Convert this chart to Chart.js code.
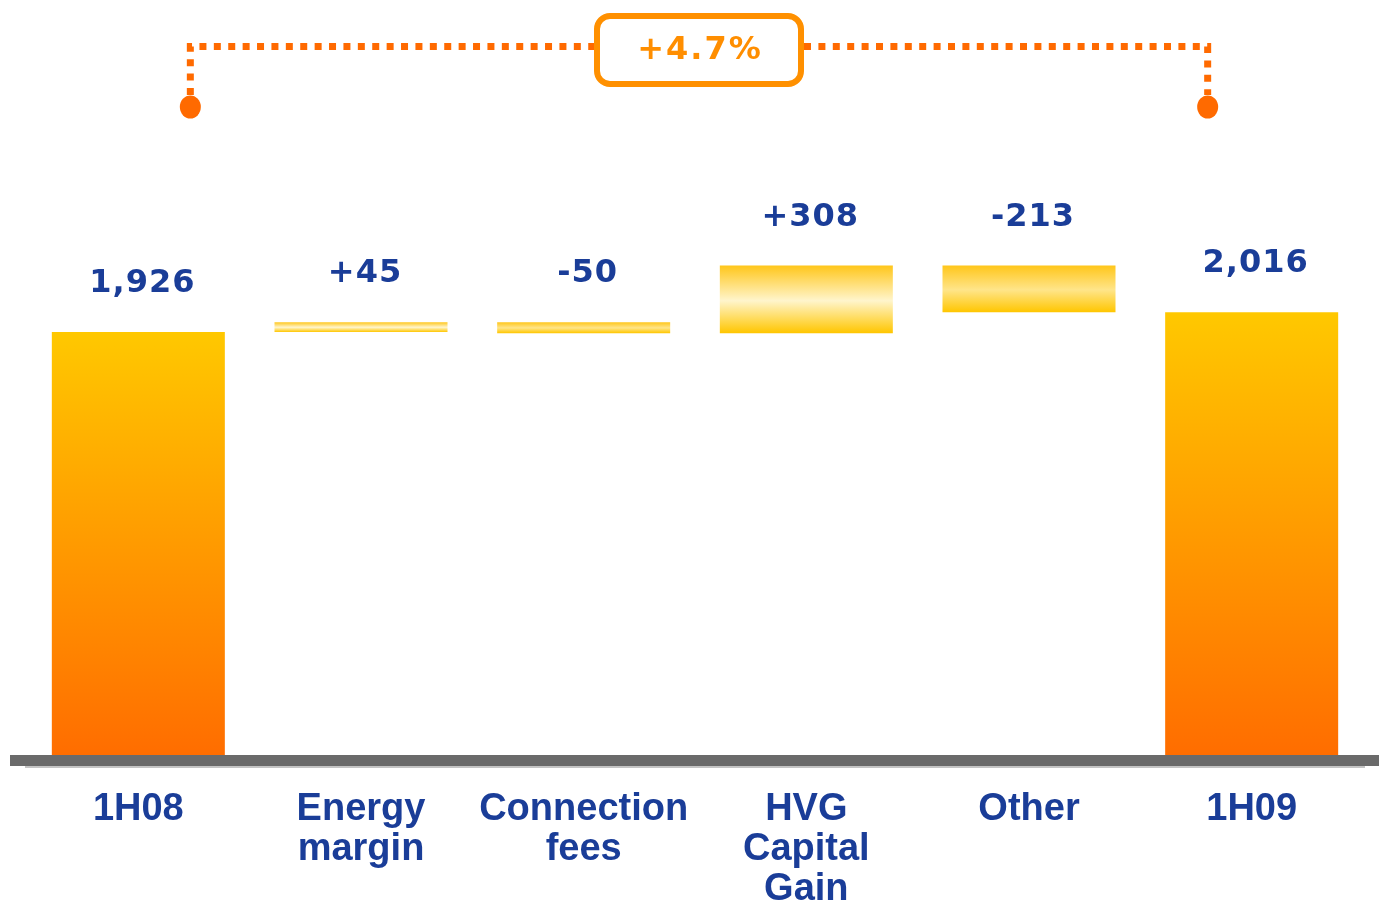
<html>
<head>
<script src="https://cdn.jsdelivr.net/npm/chart.js@4.4.1/dist/chart.umd.min.js"></script>
<style>
  body { margin: 0; background: #fff; }
  #wrap { width: 1379px; height: 906px; position: relative; }
</style>
</head>
<body>
<div id="wrap"><canvas id="myChart"></canvas></div>
<script>
// waterfall data
var categories = [['1H08'], ['Energy', 'margin'], ['Connection', 'fees'], ['HVG', 'Capital', 'Gain'], ['Other'], ['1H09']];
var values = [1926, 45, -50, 308, -213, 2016];
var isTotal = [true, false, false, false, false, true];

var blue = '#1a3d98';

// build floating bar ranges from running sum
var ranges = [];
var run = 0;
for (var i = 0; i < values.length; i++) {
    if (isTotal[i]) {
        ranges.push([0, values[i]]);
        run = values[i];
    } else {
        ranges.push([run, run + values[i]]);
        run = run + values[i];
    }
}

function fmt(i) {
    var v = values[i];
    if (isTotal[i]) return v.toLocaleString('en-US');
    return (v > 0 ? '+' : '-') + Math.abs(v);
}

function barColor(ctx) {
    var chart = ctx.chart;
    if (!chart.chartArea || ctx.dataIndex === undefined) return '#FFC800';
    var y = chart.scales.y;
    var r = ranges[ctx.dataIndex];
    var top = y.getPixelForValue(Math.max(r[0], r[1]));
    var bot = y.getPixelForValue(Math.min(r[0], r[1]));
    var g = chart.ctx.createLinearGradient(0, top, 0, bot);
    if (isTotal[ctx.dataIndex]) {
        g.addColorStop(0, '#FFC800');
        g.addColorStop(1, '#FF6D00');
    } else {
        var mid = values[ctx.dataIndex] > 0 ? '#FFF5CC' : '#FFE58A';
        g.addColorStop(0, '#FFC61A');
        g.addColorStop(0.52, mid);
        g.addColorStop(1, '#FFC600');
    }
    return g;
}

// value labels above bars
var valueLabels = {
    id: 'valueLabels',
    afterDatasetsDraw: function (chart) {
        var c = chart.ctx;
        var meta = chart.getDatasetMeta(0);
        c.save();
        c.font = 'bold 32px "DejaVu Sans"';
        c.letterSpacing = '1px';
        c.fillStyle = blue;
        c.textAlign = 'center';
        c.textBaseline = 'alphabetic';
        meta.data.forEach(function (bar, i) {
            var top = Math.min(bar.y, bar.base);
            c.fillText(fmt(i), bar.x + 4, top - 40);
        });
        c.restore();
    }
};

// thick grey baseline
var baseLine = {
    id: 'baseLine',
    afterDatasetsDraw: function (chart) {
        var c = chart.ctx;
        var y0 = chart.scales.y.getPixelForValue(0);
        c.save();
        c.fillStyle = '#c4c4c4';
        c.fillRect(25, y0 + 11, 1340, 2);
        c.fillStyle = '#6a6a6a';
        c.fillRect(10, y0, 1369, 11);
        c.restore();
    }
};

// growth bracket on top
var bracket = {
    id: 'bracket',
    afterDraw: function (chart) {
        var c = chart.ctx;
        var xs = chart.scales.x;
        var x1 = xs.getPixelForValue(0) + 52;
        var x2 = xs.getPixelForValue(5) - 44;
        var ly = 46.5;
        var dotY = 107;
        var cx = (x1 + x2) / 2;
        var bw = 204, bh = 68, bt = 16;
        c.save();
        c.strokeStyle = '#FF6A00';
        c.lineWidth = 7;
        c.setLineDash([7, 7.4]);
        c.beginPath();
        c.moveTo(x1, dotY - 12);
        c.lineTo(x1, ly);
        c.lineTo(cx - bw / 2 - 3, ly);
        c.stroke();
        c.beginPath();
        c.moveTo(cx + bw / 2 + 3, ly);
        c.lineTo(x2, ly);
        c.lineTo(x2, dotY - 12);
        c.stroke();
        c.setLineDash([]);
        c.fillStyle = '#FF6A00';
        c.beginPath();
        c.ellipse(x1, dotY, 10.5, 11.5, 0, 0, Math.PI * 2);
        c.fill();
        c.beginPath();
        c.ellipse(x2, dotY, 10.5, 11.5, 0, 0, Math.PI * 2);
        c.fill();
        c.strokeStyle = '#FF9000';
        c.lineWidth = 6;
        c.beginPath();
        c.roundRect(cx - bw / 2, bt, bw, bh, 13);
        c.stroke();
        var pct = (values[5] - values[0]) / values[0] * 100;
        c.fillStyle = '#FF8E00';
        c.font = 'bold 32px "DejaVu Sans"';
        c.letterSpacing = '2px';
        c.textAlign = 'center';
        c.textBaseline = 'middle';
        c.fillText('+' + pct.toFixed(1) + '%', cx + 1, bt + bh / 2 + 1);
        c.restore();
    }
};

var ctx = document.getElementById('myChart').getContext('2d');
var chart = new Chart(ctx, {
    type: 'bar',
    data: {
        labels: categories,
        datasets: [{
            data: ranges,
            backgroundColor: barColor,
            borderWidth: 0,
            categoryPercentage: 1,
            barPercentage: 0.777
        }]
    },
    options: {
        responsive: true,
        maintainAspectRatio: false,
        animation: false,
        layout: { padding: { top: 206, left: 27, right: 16, bottom: 0 } },
        plugins: { legend: { display: false }, tooltip: { enabled: false } },
        scales: {
            y: { display: false, min: 0, max: 2500 },
            x: {
                grid: { display: false, drawTicks: false },
                border: { display: false },
                ticks: {
                    color: blue,
                    padding: 35,
                    font: { family: '"Liberation Sans"', weight: 'bold', size: 38, lineHeight: 1.05 }
                },
                afterFit: function (scale) { scale.height = 151; }
            }
        }
    },
    plugins: [valueLabels, baseLine, bracket]
});
</script>
</body>
</html>
